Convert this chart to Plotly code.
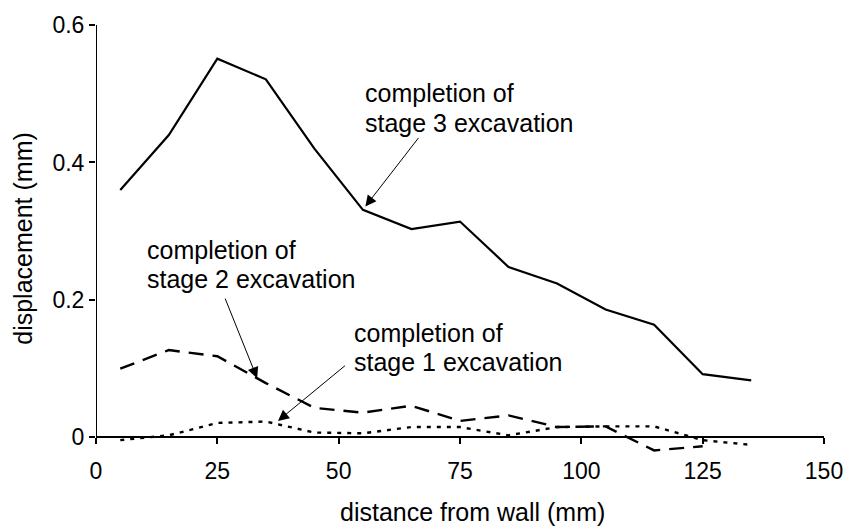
import plotly.graph_objects as go

# distance from the wall (mm) at which displacement was measured
distance = [5, 15, 25, 35, 45, 55, 65, 75, 85, 95, 105, 115, 125, 135]

# horizontal displacement (mm) after each excavation stage
stage3 = [0.36, 0.44, 0.551, 0.521, 0.42, 0.331, 0.303, 0.314, 0.248, 0.224, 0.186, 0.164, 0.092, 0.083]
stage2 = [0.100, 0.127, 0.118, 0.079, 0.043, 0.036, 0.046, 0.024, 0.032, 0.015, 0.016, -0.019, -0.013]
stage1 = [-0.004, 0.003, 0.021, 0.023, 0.007, 0.006, 0.015, 0.015, 0.003, 0.015, 0.016, 0.016, -0.004, -0.011]

x_ticks = [0, 25, 50, 75, 100, 125, 150]
y_ticks = [0, 0.2, 0.4, 0.6]
y_tick_text = ["0", "0.2", "0.4", "0.6"]

FONT = "Liberation Sans, Arial, Helvetica, sans-serif"
Y_MIN, Y_MAX = -0.03, 0.6

fig = go.Figure()
fig.add_trace(go.Scatter(x=distance, y=stage3, mode="lines",
                         line=dict(color="black", width=2.2)))
fig.add_trace(go.Scatter(x=distance[:len(stage2)], y=stage2, mode="lines",
                         line=dict(color="black", width=2.4, dash="15px,9px")))
fig.add_trace(go.Scatter(x=distance, y=stage1, mode="lines",
                         line=dict(color="black", width=2.4, dash="4px,6px")))

# y axis line from 0 to the top of the scale
fig.add_shape(type="line", xref="x", yref="y", x0=0, x1=0, y0=0, y1=Y_MAX,
              line=dict(color="black", width=2))

text_font = dict(family=FONT, size=25, color="black")
# each callout is two lines of text placed one under the other
labels = [
    ("completion of", 55.1, 0.501),
    ("stage 3 excavation", 55.1, 0.458),
    ("completion of", 10.1, 0.273),
    ("stage 2 excavation", 10.1, 0.230),
    ("completion of", 52.8, 0.152),
    ("stage 1 excavation", 52.8, 0.109),
]
for txt, tx, ty in labels:
    fig.add_annotation(x=tx, y=ty, text=txt, showarrow=False, xanchor="left",
                       yanchor="middle", align="left", font=text_font)

arrows = [
    (55.5, 0.336, 66.7, 0.438),
    (33.2, 0.086, 26.5, 0.204),
    (37.5, 0.024, 51.6, 0.106),
]
for hx, hy, tx, ty in arrows:
    fig.add_annotation(x=hx, y=hy, ax=tx, ay=ty, xref="x", yref="y", axref="x", ayref="y",
                       text="", showarrow=True, arrowhead=2, arrowsize=2.2,
                       arrowwidth=1, arrowcolor="black")

# axis titles
fig.add_annotation(x=77.6, y=0, xref="x", yref="paper", yanchor="middle", yshift=-54,
                   text="distance from wall (mm)", showarrow=False, font=text_font)
fig.add_annotation(x=0, y=0.289, xref="paper", yref="y", xanchor="center", yanchor="middle",
                   xshift=-73, text="displacement (mm)",
                   textangle=-90, showarrow=False, font=text_font)

tick_font = dict(family=FONT, size=23, color="black")
fig.update_layout(
    width=855, height=531,
    margin=dict(l=96, r=26, t=19, b=73),
    paper_bgcolor="white", plot_bgcolor="white",
    showlegend=False,
    font=dict(family=FONT, size=22, color="black"),
    xaxis=dict(range=[0, 150], tickvals=x_ticks, ticks="outside", ticklen=6, tickwidth=2,
               tickcolor="black", showline=True, linecolor="black", linewidth=2,
               showgrid=False, zeroline=False, anchor="free", tickfont=tick_font,
               ticklabelstandoff=7,
               position=(0 - Y_MIN) / (Y_MAX - Y_MIN)),
    yaxis=dict(range=[Y_MIN, Y_MAX], tickvals=y_ticks, ticktext=y_tick_text,
               ticks="outside", ticklen=6, tickwidth=2, tickcolor="black", tickfont=tick_font,
               showline=False, showgrid=False, zeroline=False),
)

fig.write_html("out.html")
